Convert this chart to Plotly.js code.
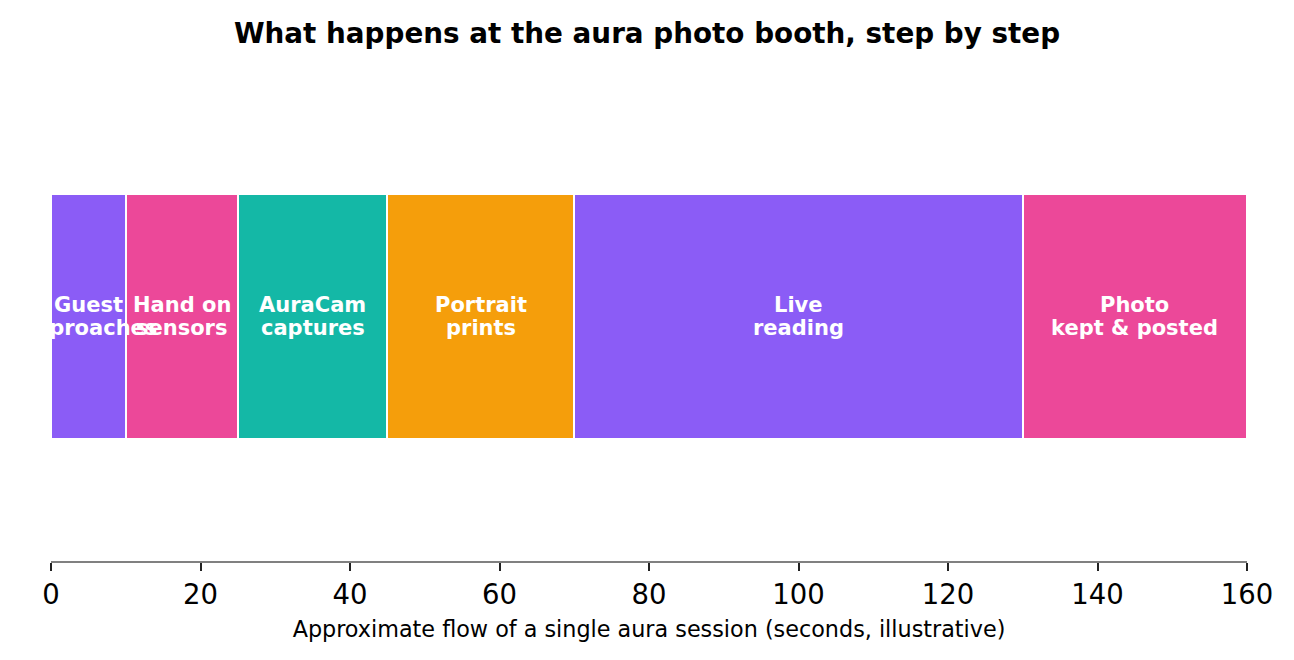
<!DOCTYPE html>
<html>
<head>
<meta charset="utf-8">
<script src="https://cdn.plot.ly/plotly-3.0.1.min.js"></script>
<style>
  html, body { margin: 0; padding: 0; background: #ffffff; }
  #chart { width: 1294px; height: 660px; }
</style>
</head>
<body>
<div id="chart"></div>
<script>
// Steps of the session, in order
const stepLabels = ['Guest\napproaches', 'Hand on\nsensors', 'AuraCam\ncaptures',
                    'Portrait\nprints', 'Live\nreading', 'Photo\nkept & posted'];
const stepDurations = [10, 15, 20, 25, 60, 30];
const stepColors = ['#8b5cf6', '#ec4899', '#14b8a6', '#f59e0b', '#8b5cf6', '#ec4899'];
const xTicks = [0, 20, 40, 60, 80, 100, 120, 140, 160];

// Start of each step and its midpoint for the label
const stepStarts = [];
let acc = 0;
stepDurations.forEach(d => { stepStarts.push(acc); acc += d; });
const stepMids = stepStarts.map((s, i) => s + stepDurations[i] / 2);

const barTrace = {
    type: 'bar',
    orientation: 'h',
    y: stepDurations.map(() => 0),
    x: stepDurations,
    base: stepStarts,
    width: 0.5,
    marker: { color: stepColors, line: { color: '#ffffff', width: 2 } },
    hoverinfo: 'skip',
    showlegend: false
};

// two-line labels as annotations, so line spacing can be kept tight
const labelFont = { family: 'DejaVu Sans', size: 21, color: '#ffffff', weight: 'bold' };
const annotations = [];
stepLabels.forEach((lbl, i) => {
    const lines = lbl.split('\n');
    lines.forEach((line, j) => {
        annotations.push({
            x: stepMids[i], y: 0, xref: 'x', yref: 'y',
            text: '<b>' + line + '</b>',
            showarrow: false,
            font: labelFont,
            xanchor: 'center', yanchor: 'middle',
            yshift: (lines.length - 1) / 2 * 23 - j * 23
        });
    });
});

const layout = {
    width: 1294,
    height: 660,
    margin: { t: 71, b: 99, l: 51, r: 47 },
    paper_bgcolor: '#ffffff',
    plot_bgcolor: '#ffffff',
    font: { family: 'DejaVu Sans', color: '#000000' },
    title: {
        text: '<b>What happens at the aura photo booth, step by step</b>',
        font: { family: 'DejaVu Sans', size: 27.8, color: '#000000' },
        x: 0.5, xanchor: 'center',
        y: 0.95, yanchor: 'middle', yref: 'container'
    },
    xaxis: {
        range: [0, 160],
        tickvals: xTicks,
        ticktext: xTicks.map(String),
        tickfont: { size: 27.5, color: '#000000' },
        ticks: 'outside', ticklen: 8, tickwidth: 1.8, tickcolor: '#222222',
        showline: true, linecolor: '#808080', linewidth: 2,
        showgrid: false, zeroline: false,
        title: { text: 'Approximate flow of a single aura session (seconds, illustrative)',
                 font: { size: 22.3, color: '#000000' }, standoff: 12 }
    },
    yaxis: {
        range: [-0.5, 0.5],
        visible: false,
        showgrid: false, zeroline: false
    },
    annotations: annotations,
    bargap: 0
};

Plotly.newPlot('chart', [barTrace], layout, { displayModeBar: false, responsive: false });
</script>
</body>
</html>
